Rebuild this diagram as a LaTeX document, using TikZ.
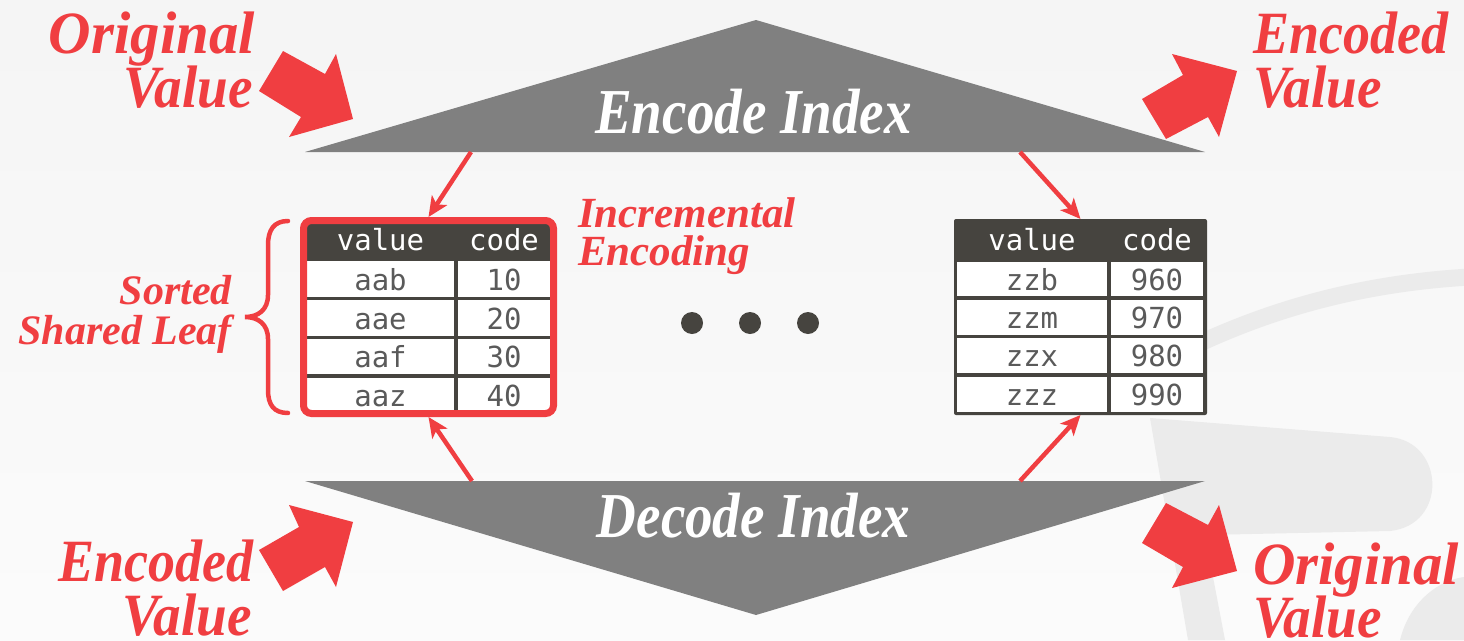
\documentclass[tikz,border=0pt]{standalone}
\usepackage{fontspec}
\usepackage{graphicx}
\setmainfont{Liberation Serif}
\newfontfamily\tabmono{DejaVu Sans Mono}
\usetikzlibrary{arrows.meta}
\definecolor{cred}{HTML}{F03E41}
\definecolor{cdark}{HTML}{46443F}
\definecolor{cgrey}{HTML}{808080}
\definecolor{ccell}{HTML}{5A5A5A}
\definecolor{cmark}{HTML}{EBEBEB}
% narrower setting of the large italic words
\newcommand{\narrowword}[2]{\scalebox{#1}[1]{#2}}
\begin{document}
\begin{tikzpicture}[x=1pt,y=-1pt,
  bigtext/.style={text=cred, font=\fontsize{60}{60}\selectfont\bfseries\itshape, inner sep=0pt},
  midtext/.style={text=cred, font=\fontsize{43}{43}\selectfont\bfseries\itshape, inner sep=0pt},
  idxtext/.style={text=white, font=\fontsize{64}{64}\selectfont\bfseries\itshape, inner sep=0pt},
  cell/.style={fill=white, inner sep=0pt, outer sep=0pt, text=ccell,
    font=\tabmono\fontsize{29}{29}\selectfont, text height=22pt, text depth=0pt},
  headtext/.style={text=white, inner sep=0pt, font=\tabmono\fontsize{29}{29}\selectfont},
  blockarrow/.style={fill=cred},
  thinarrow/.style={draw=cred, line width=4.5pt, -{Stealth[length=20pt,width=18pt,inset=5pt]}},
  ellipsisdot/.style={circle, fill=cdark, minimum size=22pt, inner sep=0pt},
  index/.style={fill=cgrey}
]
\useasboundingbox (0,0) rectangle (1464,640);
% backdrop
\fill[top color=black!4, bottom color=black!1.5] (0,0) rectangle (1464,640);
% faint watermark at the right edge
\draw[cmark, line width=17pt] (1150,368) .. controls (1230,325) and (1330,285) .. (1470,277);
\fill[cmark] (1150,418) -- (1390,437) .. controls (1445,442) and (1448,525) .. (1390,531)
  -- (1205,535) -- (1225,640) -- (1188,640) -- cycle;
\fill[cmark] (1400,640) .. controls (1410,600) and (1440,580) .. (1464,577) -- (1464,640) -- cycle;

% encode / decode indexes
\fill[index] (756,20) -- (1205,152) -- (305,152) -- cycle;
\fill[index] (305,481) -- (1205,481) -- (756,615) -- cycle;
\node[idxtext, anchor=base] (enc) at (753.5,133) {\narrowword{0.86}{Encode Index}};
\node[idxtext, anchor=base] (dec) at (753.5,537) {\narrowword{0.86}{Decode Index}};
\coordinate (encL) at (471,152);
\coordinate (encR) at (1020,152);
\coordinate (decL) at (472,481);
\coordinate (decR) at (1020,481);

% big block arrows
\fill[blockarrow] (283,51) -- (325,74) -- (336,54) -- (353,119) -- (289,137) -- (301,117) -- (259,91) -- cycle;
\fill[blockarrow] (1142,99) -- (1183,75) -- (1172,54) -- (1237,71) -- (1219,137) -- (1208,117) -- (1166,139) -- cycle;
\fill[blockarrow] (259,550) -- (299,527) -- (289,505) -- (353,522) -- (336,587) -- (325,567) -- (283,591) -- cycle;
\fill[blockarrow] (1142,543) -- (1183,567) -- (1172,588) -- (1237,571) -- (1219,505) -- (1208,525) -- (1166,503) -- cycle;

% corner labels
\node[bigtext, anchor=base east] (ovA) at (255,53) {\narrowword{0.98}{Original}};
\node[bigtext, anchor=base east] (ovB) at (253,107) {\narrowword{0.92}{Value}};
\node[bigtext, anchor=base west] (evA) at (1253,53) {\narrowword{0.9}{Encoded}};
\node[bigtext, anchor=base west] (evB) at (1253,107) {\narrowword{0.92}{Value}};
\node[bigtext, anchor=base east] (evC) at (254,581) {\narrowword{0.9}{Encoded}};
\node[bigtext, anchor=base east] (evD) at (252,635) {\narrowword{0.92}{Value}};
\node[bigtext, anchor=base west] (ovC) at (1253,584) {\narrowword{0.98}{Original}};
\node[bigtext, anchor=base west] (ovD) at (1253,637) {\narrowword{0.92}{Value}};

% left leaf (sorted, shared)
\fill[cdark, rounded corners=6pt] (303.5,220.5) rectangle (553.5,413.5);
\node[headtext, anchor=base] (lhv) at (380.5,250) {value};
\node[headtext, anchor=base] (lhc) at (504,250) {code};
\node[cell, minimum width=147pt, minimum height=36pt] (lv1) at (380.5,279) {aab};
\node[cell, minimum width=92pt,  minimum height=36pt] (lc1) at (504,279) {10};
\node[cell, minimum width=147pt, minimum height=36pt] (lv2) at (380.5,318) {aae};
\node[cell, minimum width=92pt,  minimum height=36pt] (lc2) at (504,318) {20};
\node[cell, minimum width=147pt, minimum height=35pt] (lv3) at (380.5,356.5) {aaf};
\node[cell, minimum width=92pt,  minimum height=35pt] (lc3) at (504,356.5) {30};
\node[cell, minimum width=147pt, minimum height=34pt] (lv4) at (380.5,395) {aaz};
\node[cell, minimum width=92pt,  minimum height=34pt] (lc4) at (504,395) {40};
\node[draw=cred, line width=7pt, rounded corners=8pt, minimum width=250pt,
  minimum height=193pt, inner sep=0pt] (leafL) at (428.5,317) {};

% right leaf
\node[fill=cdark, rounded corners=2pt, minimum width=253pt, minimum height=196pt,
  inner sep=0pt, outer sep=0pt] (leafR) at (1080.5,317) {};
\node[headtext, anchor=base] (rhv) at (1032,250) {value};
\node[headtext, anchor=base] (rhc) at (1157,250) {code};
\node[cell, minimum width=150pt, minimum height=34pt] (rv1) at (1032,279) {zzb};
\node[cell, minimum width=92pt,  minimum height=34pt] (rc1) at (1157,279) {960};
\node[cell, minimum width=150pt, minimum height=35pt] (rv2) at (1032,317.5) {zzm};
\node[cell, minimum width=92pt,  minimum height=35pt] (rc2) at (1157,317.5) {970};
\node[cell, minimum width=150pt, minimum height=35pt] (rv3) at (1032,355.5) {zzx};
\node[cell, minimum width=92pt,  minimum height=35pt] (rc3) at (1157,355.5) {980};
\node[cell, minimum width=150pt, minimum height=35pt] (rv4) at (1032,394.5) {zzz};
\node[cell, minimum width=92pt,  minimum height=35pt] (rc4) at (1157,394.5) {990};

% ellipsis between the leaves
\node[ellipsisdot] (d1) at (692,323) {};
\node[ellipsisdot] (d2) at (750,323) {};
\node[ellipsisdot] (d3) at (808,323) {};

% brace and side labels
\draw[cred, line width=4.5pt, line cap=round]
  (288,221) .. controls (274,221) and (268,230) .. (268,245) -- (268,295)
  .. controls (268,310) and (258,317) .. (245,317)
  .. controls (258,317) and (268,324) .. (268,339) -- (268,390)
  .. controls (268,405) and (274,413) .. (288,413);
\node[midtext, font=\fontsize{42}{42}\selectfont\bfseries\itshape, anchor=base east] (srt) at (232,304) {Sorted};
\node[midtext, font=\fontsize{42}{42}\selectfont\bfseries\itshape, anchor=base east] (shl) at (232,344) {Shared Leaf};
\node[midtext, anchor=base west] (inc) at (578,227) {Incremental};
\node[midtext, anchor=base west] (ienc) at (578,265) {Encoding};

% index-to-leaf pointers
\draw[thinarrow] (encL) -- (leafL.north);
\draw[thinarrow] (encR) -- (leafR.north);
\draw[thinarrow] (decL) -- (leafL.south);
\draw[thinarrow] (decR) -- (leafR.south);
\end{tikzpicture}
\end{document}
